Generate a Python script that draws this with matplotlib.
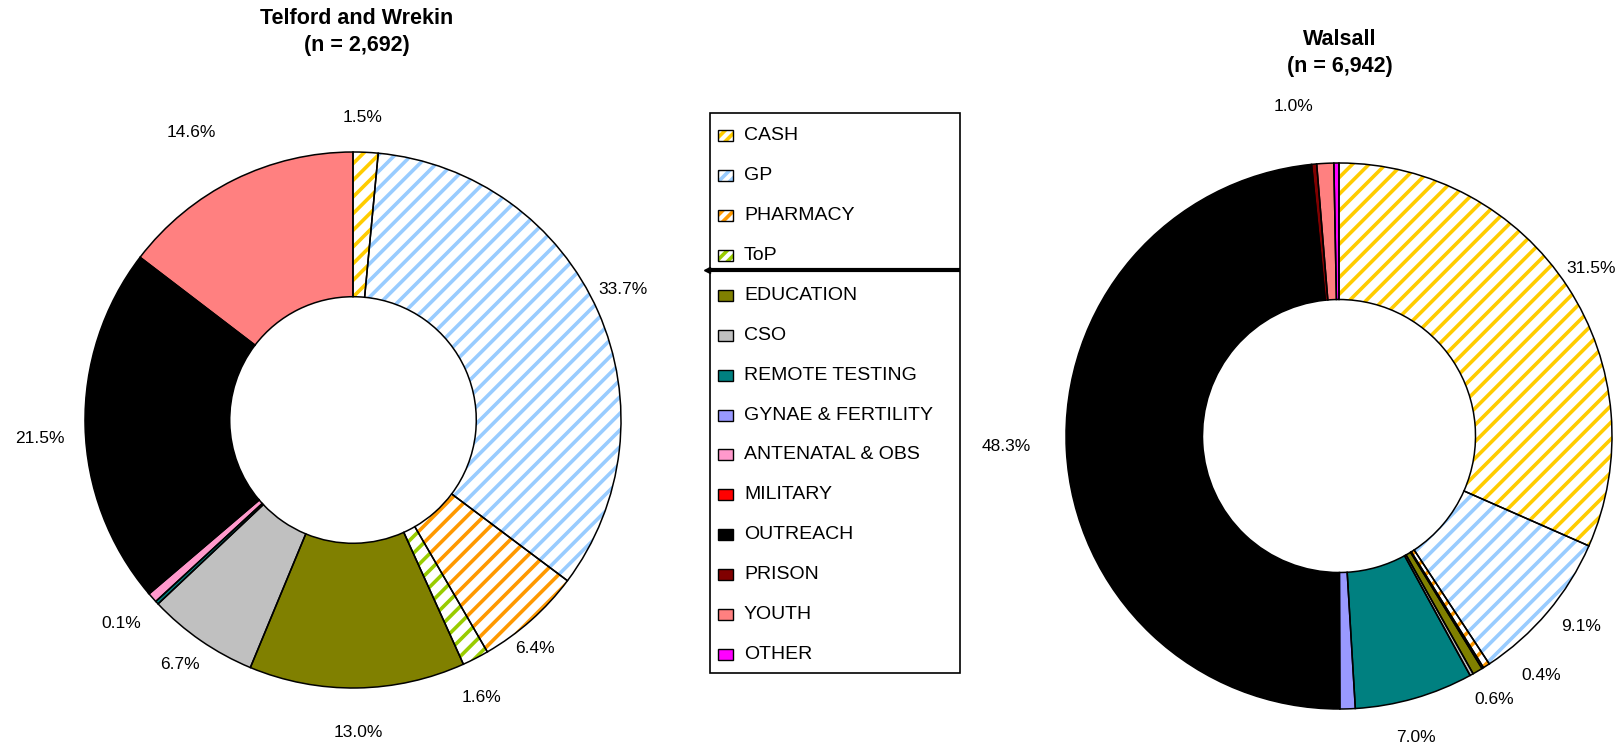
import numpy as np
import matplotlib.pyplot as plt
from matplotlib.patches import Rectangle

plt.rcParams['font.family'] = ['Liberation Sans', 'DejaVu Sans']
plt.rcParams['hatch.linewidth'] = 2.6

W, H = 1623, 742

categories = ['CASH', 'GP', 'PHARMACY', 'ToP', 'EDUCATION', 'CSO', 'REMOTE TESTING',
              'GYNAE & FERTILITY', 'ANTENATAL & OBS', 'MILITARY', 'OUTREACH',
              'PRISON', 'YOUTH', 'OTHER']
category_colors = ['#FFCC00', '#99CCFF', '#FF9900', '#99CC00', '#808000', '#C0C0C0',
                   '#008080', '#9999FF', '#FF99CC', '#FF0000', '#000000',
                   '#800000', '#FF8080', '#FF00FF']
hatched = ['CASH', 'GP', 'PHARMACY', 'ToP']

telford_pct = [1.5, 33.7, 6.4, 1.6, 13.0, 6.7, 0.2, 0.0, 0.6, 0.1, 21.5, 0.0, 14.6, 0.0]
walsall_pct = [31.5, 9.1, 0.4, 0.1, 0.6, 0.2, 7.0, 0.9, 0.0, 0.0, 48.3, 0.3, 1.0, 0.3]

# slice index -> (label distance in radii, angular nudge in degrees)
telford_labels = {0: (1.13, -0.8), 1: (1.12, -2), 2: (1.09, 3), 3: (1.14, 2.4),
                  4: (1.165, 0), 5: (1.12, 0.7), 9: (1.15, -1), 10: (1.17, -2),
                  12: (1.23, -3)}
walsall_labels = {0: (1.11, -0.5), 1: (1.13, -2), 2: (1.15, -7.5), 4: (1.12, 0),
                  6: (1.14, 1.7), 10: (1.22, 1.1), 12: (1.22, -5)}

fig = plt.figure(figsize=(W / 100, H / 100), dpi=100)


def draw_donut(cx, cy, R, hole, values, label_spec, title, title_xy):
    S = 360
    ax = fig.add_axes([(cx - S) / W, 1 - (cy + S) / H, 2 * S / W, 2 * S / H])
    keep = [i for i, v in enumerate(values) if v > 0]
    vals = [values[i] for i in keep]
    cols = [category_colors[i] for i in keep]
    width = 1 - hole

    wedges, _ = ax.pie(vals, colors=cols, startangle=90, counterclock=False,
                       radius=1, wedgeprops=dict(width=width, linewidth=0))
    for w, i in zip(wedges, keep):
        if categories[i] in hatched:
            w.set_facecolor('white')
            w.set_edgecolor(category_colors[i])
            w.set_hatch('//')
            w.set_linewidth(0)
    # black outlines on top of the fills
    ax.pie(vals, startangle=90, counterclock=False, radius=1,
           wedgeprops=dict(width=width, fill=False, edgecolor='black', linewidth=1.1))

    lim = S / R
    ax.set_xlim(-lim, lim)
    ax.set_ylim(-lim, lim)
    ax.axis('off')

    total = sum(vals)
    cum = np.cumsum([0] + vals) / total
    for k, i in enumerate(keep):
        if i not in label_spec:
            continue
        dist, nudge = label_spec[i]
        a = np.deg2rad(360 * (cum[k] + cum[k + 1]) / 2 + nudge)
        ax.text(dist * np.sin(a), dist * np.cos(a), f'{values[i]:.1f}%',
                ha='center', va='center', fontsize=12.5)

    fig.text(title_xy[0] / W, 1 - title_xy[1] / H, title, ha='center', va='center',
             fontsize=15.5, fontweight='bold', linespacing=1.4)


draw_donut(353, 420, 268, 0.46, telford_pct, telford_labels,
           'Telford and Wrekin\n(n = 2,692)', (357, 32))
draw_donut(1339, 436, 273, 0.50, walsall_pct, walsall_labels,
           'Walsall\n(n = 6,942)', (1340, 53))

# legend panel in pixel coordinates
lax = fig.add_axes([0, 0, 1, 1])
lax.set_xlim(0, W)
lax.set_ylim(H, 0)
lax.axis('off')
box_x, box_y, box_w, box_h = 710, 113, 250, 560
step = 39.9
lax.add_patch(Rectangle((box_x, box_y), box_w, box_h, fill=False,
                        edgecolor='black', linewidth=1.2))
for i, (name, col) in enumerate(zip(categories, category_colors)):
    y = box_y + 22.7 + i * step
    if name in hatched:
        lax.add_patch(Rectangle((box_x + 8, y - 5.5), 15, 11, facecolor='white',
                                edgecolor=col, hatch='///', linewidth=0))
        lax.add_patch(Rectangle((box_x + 8, y - 5.5), 15, 11, fill=False,
                                edgecolor='black', linewidth=1))
    else:
        lax.add_patch(Rectangle((box_x + 8, y - 5.5), 15, 11, facecolor=col,
                                edgecolor='black', linewidth=1))
    lax.text(box_x + 34, y, name, ha='left', va='center', fontsize=14)
# divider between the first four services and the rest
sep_y = box_y + 22.7 + 3.37 * step
lax.plot([box_x - 2, box_x + box_w], [sep_y, sep_y], color='black', linewidth=3,
         solid_capstyle='butt')
lax.plot([box_x - 3], [sep_y], marker='<', color='black', markersize=4)

fig.savefig('out.png', dpi=100)
